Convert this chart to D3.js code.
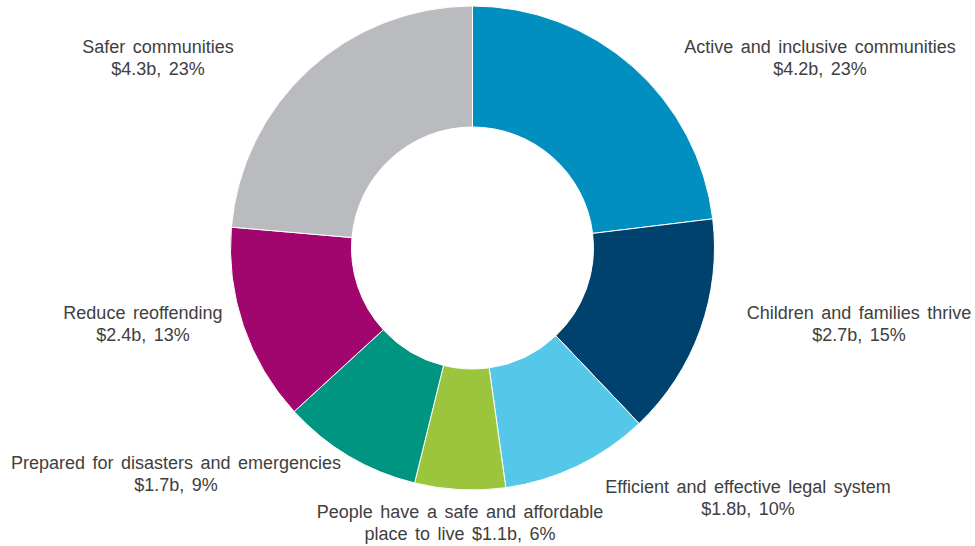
<!DOCTYPE html>
<html>
<head>
<meta charset="utf-8">
<script src="https://cdn.jsdelivr.net/npm/d3@7"></script>
<style>
  html, body { margin: 0; padding: 0; background: #fff; }
  svg { display: block; }
</style>
</head>
<body>
<svg id="chart" width="975" height="546"></svg>
<script>
// Funding by outcome area ($ billions)
const categories = [
  "Active and inclusive communities",
  "Children and families thrive",
  "Efficient and effective legal system",
  "People have a safe and affordable place to live",
  "Prepared for disasters and emergencies",
  "Reduce reoffending",
  "Safer communities"
];
const values = [4.2, 2.7, 1.8, 1.1, 1.7, 2.4, 4.3];
const percents = [23, 15, 10, 6, 9, 13, 23];

// Label lines for each slice
const labelLines = [
  ["Active and inclusive communities", "$4.2b, 23%"],
  ["Children and families thrive", "$2.7b, 15%"],
  ["Efficient and effective legal system", "$1.8b, 10%"],
  ["People have a safe and affordable", "place to live $1.1b, 6%"],
  ["Prepared for disasters and emergencies", "$1.7b, 9%"],
  ["Reduce reoffending", "$2.4b, 13%"],
  ["Safer communities", "$4.3b, 23%"]
];

const colors = ["#008FBE", "#00426E", "#55C8E9", "#9AC53D", "#009580", "#A1066F", "#B9BBBE"];

// Anchor (centre x, first baseline y) for each label block
const labelAnchors = [
  [820, 53], [859, 319], [748, 493], [460, 518], [176, 469], [143, 319], [158, 53]
];

const svg = d3.select("#chart");
const cx = 472.5, cy = 248, rOuter = 242, rInner = 121;

const pie = d3.pie().sort(null).value(d => d)(values);
const arc = d3.arc().innerRadius(rInner).outerRadius(rOuter);

const g = svg.append("g").attr("transform", `translate(${cx},${cy})`);
g.selectAll("path")
  .data(pie)
  .join("path")
  .attr("d", arc)
  .attr("fill", (d, i) => colors[i])
  .attr("stroke", "#fff")
  .attr("stroke-width", 1);

const labels = svg.append("g")
  .attr("font-family", "'Liberation Sans', Arial, sans-serif")
  .attr("font-size", 18)
  .attr("fill", "#404040")
  .attr("text-anchor", "middle");

labels.selectAll("text")
  .data(labelLines)
  .join("text")
  .attr("x", (d, i) => labelAnchors[i][0])
  .attr("y", (d, i) => labelAnchors[i][1])
  .selectAll("tspan")
  .data((d, i) => d.map(t => ({ t, x: labelAnchors[i][0] })))
  .join("tspan")
  .attr("x", d => d.x)
  .attr("dy", (d, j) => j === 0 ? 0 : 22)
  .attr("word-spacing", 2.5)
  .text(d => d.t);
</script>
</body>
</html>
